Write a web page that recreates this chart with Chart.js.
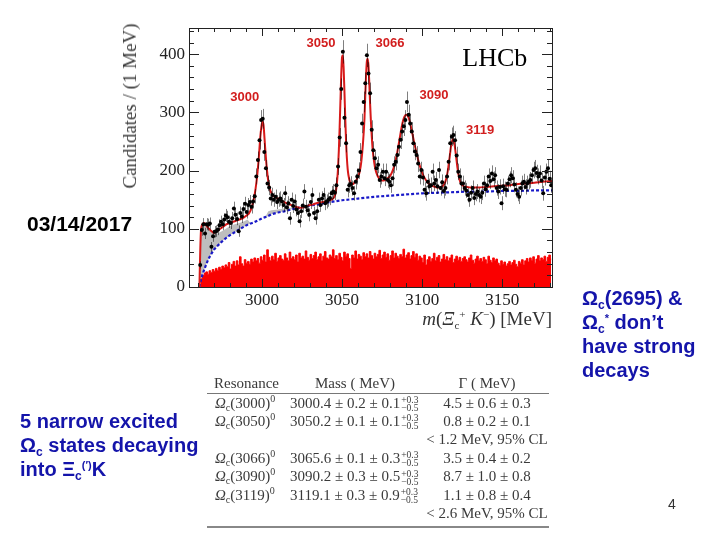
<!DOCTYPE html>
<html>
<head>
<meta charset="utf-8">
<script src="https://cdn.jsdelivr.net/npm/chart.js@4.4.1/dist/chart.umd.min.js"></script>
<style>
  body { margin: 0; background: #fff; }
  #slide { position: relative; width: 720px; height: 540px; overflow: hidden; font-family: 'Liberation Sans', Arial, sans-serif; }
  #grafico { position: absolute; left: 0; top: 0; }
  .txt { position: absolute; white-space: nowrap; }
  sub, sup { line-height: 0; }
  .blue { color: rgb(20, 20, 170); font-weight: bold; font-size: 20px; line-height: 24px; height: 24px; }
  .blue sub { font-size: 12px; vertical-align: -4px; }
  .blue sup { font-size: 11px; vertical-align: 7px; }
  #ytitle { left: 130px; top: 106px; transform: translate(-50%, -50%) rotate(-90deg); font: 19px 'Liberation Serif', serif; color: #3a3a3a; }
  #xtitle { right: 168px; top: 308px; font: 19px 'Liberation Serif', serif; color: #333; }
  #xtitle sub { font-size: 11px; vertical-align: -4px; }
  #xtitle sup { font-size: 11px; vertical-align: 7px; }
  table { position: absolute; left: 207px; top: 373px; width: 342px; table-layout: fixed; border-collapse: collapse; font: 15px 'Liberation Serif', serif; color: #3a3a3a; }
  th { font-weight: normal; height: 20px; padding: 0; line-height: 16px; border-bottom: 1px solid #777; }
  tr.row { height: 18.5px; }
  td { padding: 0; line-height: 15px; white-space: nowrap; overflow: visible; }
  td.c1 { padding-left: 8px; }
  td.c2 { padding-left: 5px; }
  td.c3 { text-align: center; }
  td sub { font-size: 10px; vertical-align: -3px; }
  td sup { font-size: 10px; vertical-align: 6px; }
  .pm { display: inline-block; vertical-align: middle; font-size: 9.5px; line-height: 8px; margin: -6px 0 -6px 1px; }
  tr.end td { height: 3px; border-bottom: 2px solid #888; }
</style>
</head>
<body>
<div id="slide">
  <canvas id="grafico" width="720" height="540"></canvas>

  <div class="txt" id="ytitle">Candidates / (1 MeV)</div>
  <div class="txt" id="xtitle"><i>m</i>(<i>Ξ</i><sub>c</sub><sup>+</sup> <i>K</i><sup>−</sup>) [MeV]</div>

  <div class="txt" style="left:27px; top:211px; font-weight:bold; font-size:21px; line-height:26px; color:#000;">03/14/2017</div>

  <div class="txt blue" style="left:582px; top:286px;">Ω<sub>c</sub>(2695) &amp;</div>
  <div class="txt blue" style="left:582px; top:310px;">Ω<sub>c</sub><sup>*</sup> don’t</div>
  <div class="txt blue" style="left:582px; top:334px;">have strong</div>
  <div class="txt blue" style="left:582px; top:358px;">decays</div>

  <div class="txt blue" style="left:20px; top:409px;">5 narrow excited</div>
  <div class="txt blue" style="left:20px; top:433px;">Ω<sub>c</sub> states decaying</div>
  <div class="txt blue" style="left:20px; top:457px;">into Ξ<sub>c</sub><sup>(′)</sup>K</div>

  <div class="txt" style="left:668px; top:496px; font-size:14px; color:#333;">4</div>

  <table>
    <colgroup><col style="width:78px"><col style="width:140px"><col></colgroup>
    <tr><th style="text-align:left; padding-left:7px;">Resonance</th><th>Mass ( MeV)</th><th>Γ ( MeV)</th></tr>
    <tr class="row"><td class="c1"><i>Ω</i><sub>c</sub>(3000)<sup>0</sup></td><td class="c2">3000.4 ± 0.2 ± 0.1<span class="pm">+0.3<br>−0.5</span></td><td class="c3">4.5 ± 0.6 ± 0.3</td></tr>
    <tr class="row"><td class="c1"><i>Ω</i><sub>c</sub>(3050)<sup>0</sup></td><td class="c2">3050.2 ± 0.1 ± 0.1<span class="pm">+0.3<br>−0.5</span></td><td class="c3">0.8 ± 0.2 ± 0.1</td></tr>
    <tr class="row"><td class="c1"></td><td class="c2"></td><td class="c3">&lt; 1.2 MeV, 95% CL</td></tr>
    <tr class="row"><td class="c1"><i>Ω</i><sub>c</sub>(3066)<sup>0</sup></td><td class="c2">3065.6 ± 0.1 ± 0.3<span class="pm">+0.3<br>−0.5</span></td><td class="c3">3.5 ± 0.4 ± 0.2</td></tr>
    <tr class="row"><td class="c1"><i>Ω</i><sub>c</sub>(3090)<sup>0</sup></td><td class="c2">3090.2 ± 0.3 ± 0.5<span class="pm">+0.3<br>−0.5</span></td><td class="c3">8.7 ± 1.0 ± 0.8</td></tr>
    <tr class="row"><td class="c1"><i>Ω</i><sub>c</sub>(3119)<sup>0</sup></td><td class="c2">3119.1 ± 0.3 ± 0.9<span class="pm">+0.3<br>−0.5</span></td><td class="c3">1.1 ± 0.8 ± 0.4</td></tr>
    <tr class="row"><td class="c1"></td><td class="c2"></td><td class="c3">&lt; 2.6 MeV, 95% CL</td></tr>
    <tr class="end"><td></td><td></td><td></td></tr>
  </table>
</div>

<script>
// 1 MeV bins, first bin starts at 2961 MeV
const binStart = 2961;
const binWidth = 1;

// candidates per bin (black points)
const dataCounts = [
  38, 98, 108, 92, 108, 107, 109, 69, 87, 95,
  96, 99, 106, 112, 108, 116, 123, 120, 112, 110,
  118, 135, 124, 117, 96, 127, 121, 134, 143, 129,
  141, 146, 138, 147, 156, 190, 218, 252, 287, 289,
  232, 204, 178, 171, 152, 158, 150, 155, 146, 150,
  152, 147, 141, 161, 137, 144, 118, 150, 139, 147,
  133, 127, 113, 130, 140, 164, 138, 132, 124, 146,
  158, 127, 118, 130, 150, 141, 152, 158, 144, 147,
  150, 153, 161, 164, 162, 175, 207, 257, 340, 404,
  291, 247, 167, 175, 177, 170, 161, 181, 190, 200,
  232, 281, 318, 350, 398, 367, 333, 270, 235, 221,
  204, 210, 184, 190, 198, 187, 198, 184, 181, 175,
  187, 210, 215, 227, 241, 253, 267, 276, 287, 318,
  296, 281, 267, 247, 233, 227, 212, 190, 201, 188,
  167, 161, 181, 173, 175, 198, 178, 184, 173, 201,
  170, 180, 165, 170, 190, 215, 247, 258, 261, 252,
  226, 198, 190, 178, 178, 170, 166, 158, 150, 162,
  170, 153, 160, 164, 158, 155, 162, 178, 168, 175,
  190, 182, 195, 185, 192, 170, 164, 172, 144, 173,
  168, 167, 178, 185, 192, 187, 176, 167, 160, 155,
  170, 178, 181, 172, 178, 181, 184, 192, 201, 204,
  196, 190, 195, 183, 161, 188, 198, 204, 186, 175
];

// red filled histogram per bin
const redHist = [
  8, 15, 20, 24, 26, 22, 28, 25, 30, 27,
  32, 28, 34, 30, 36, 33, 38, 35, 42, 31,
  39, 44, 36, 45, 38, 52, 40, 36, 47, 41,
  44, 39, 48, 43, 50, 45, 49, 41, 52, 46,
  55, 43, 64, 51, 45, 53, 47, 58, 44, 50,
  54, 48, 46, 57, 50, 45, 60, 49, 52, 47,
  55, 43, 58, 50, 53, 48, 62, 51, 46, 56,
  49, 54, 60, 47, 52, 57, 45, 53, 61, 50,
  48, 55, 52, 64, 49, 54, 47, 58, 51, 45,
  60, 53, 57, 49, 32, 55, 50, 62, 48, 56,
  53, 47, 59, 52, 57, 50, 61, 54, 48, 58,
  52, 56, 63, 49, 55, 60, 51, 57, 46, 54,
  62, 50, 58, 53, 49, 56, 52, 65, 50, 55,
  59, 48, 54, 61, 51, 57, 46, 53, 50, 42,
  55, 38, 47, 52, 44, 49, 58, 45, 51, 54,
  43, 48, 56, 47, 52, 45, 50, 55, 42, 48,
  53, 46, 51, 44, 49, 52, 47, 43, 50, 55,
  46, 41, 48, 53, 45, 49, 44, 51, 47, 40,
  53, 46, 42, 50, 45, 48, 41, 37, 45, 39,
  43, 36, 40, 44, 38, 42, 46, 39, 35, 44,
  41, 47, 38, 45, 49, 43, 50, 46, 52, 41,
  48, 54, 45, 50, 47, 53, 44, 51, 55, 48
];

// total fit (red curve)
const fitMass = [
  2961, 2961.5, 2962, 2963, 2964, 2965, 2966, 2967, 2968, 2969, 2970,
  2971, 2972, 2973, 2974, 2975, 2976, 2977, 2978, 2979, 2980,
  2981, 2982, 2983, 2984, 2985, 2986, 2987, 2988, 2989, 2990,
  2991, 2992, 2993, 2994, 2995, 2996, 2997, 2998, 2999, 3000, 3000.5,
  3001, 3002, 3003, 3004, 3005, 3006, 3007, 3008, 3009, 3010,
  3012, 3014, 3016, 3018, 3020, 3022, 3024, 3026, 3028, 3030,
  3032, 3034, 3036, 3038, 3040, 3042, 3044, 3045, 3046, 3047,
  3047.5, 3048, 3048.5, 3049, 3049.5, 3050, 3050.5, 3051, 3051.5, 3052,
  3052.5, 3053, 3053.5, 3054, 3055, 3056, 3057, 3058, 3059, 3060,
  3061, 3062, 3063, 3064, 3064.5, 3065, 3065.5, 3066, 3066.5, 3067,
  3067.5, 3068, 3069, 3070, 3071, 3072, 3073, 3074, 3075, 3076,
  3077, 3078, 3079, 3080, 3081, 3082, 3083, 3084, 3085, 3086,
  3087, 3088, 3089, 3090, 3091, 3092, 3093, 3094, 3095, 3096,
  3097, 3098, 3099, 3100, 3101, 3102, 3103, 3104, 3105, 3106,
  3107, 3108, 3109, 3110, 3111, 3112, 3113, 3114, 3115, 3116,
  3117, 3118, 3119, 3119.5, 3120, 3121, 3122, 3123, 3124, 3125,
  3126, 3128, 3130, 3135, 3140, 3145, 3150, 3155, 3160, 3165,
  3170, 3175, 3181
];
const fitValue = [
  0, 60, 98, 108, 110, 107, 103, 100, 97, 95, 93,
  94, 96, 98, 100, 102, 104, 106, 108, 109, 110,
  111, 112, 113, 114, 115, 116, 117, 118, 120, 122,
  124, 127, 132, 140, 152, 168, 190, 220, 258, 281, 284,
  278, 240, 205, 181, 168, 161, 157, 155, 153, 152,
  149, 146, 143, 141, 139, 137, 136, 137, 139, 141,
  142, 144, 145, 146, 147, 149, 151, 154, 162, 185,
  205, 235, 275, 320, 365, 395, 398, 375, 335, 290,
  250, 222, 203, 192, 180, 176, 177, 180, 184, 190,
  198, 215, 245, 290, 330, 365, 388, 392, 380, 350,
  315, 285, 240, 215, 200, 192, 187, 184, 183, 183,
  184, 186, 188, 191, 196, 203, 212, 225, 240, 256,
  272, 285, 293, 296, 294, 287, 275, 262, 248, 236,
  224, 213, 204, 196, 190, 185, 181, 178, 176, 174,
  173, 172, 171, 171, 171, 172, 174, 178, 186, 200,
  220, 242, 254, 254, 248, 228, 205, 188, 179, 175,
  173, 172, 171, 171, 172, 173, 174, 175, 177, 178,
  179, 181, 182
];

// background (blue dashed) and background + feed-down (grey)
const bgMass = [
  2961, 2961.5, 2962, 2963, 2964, 2965, 2966, 2967, 2968, 2970,
  2972, 2975, 2978, 2980, 2983, 2986, 2989, 2991, 2993, 2994,
  2995, 2998, 3000, 3002, 3004, 3006, 3010, 3014, 3018, 3021,
  3023, 3025, 3030, 3035, 3040, 3050, 3060, 3070, 3080, 3090,
  3100, 3110, 3120, 3130, 3140, 3150, 3160, 3170, 3181
];
const bgValue = [
  0, 6, 13, 22, 30, 37, 44, 50, 55, 64,
  70, 78, 85, 89, 94, 99, 104, 107, 109, 110,
  111, 115, 118, 120, 122, 125, 128, 130, 133, 135,
  136, 137, 140, 142, 145, 149, 152, 155, 157, 159,
  161, 162, 163, 164, 164, 165, 165, 166, 166
];
const feedValue = [
  0, 60, 95, 108, 108, 105, 101, 98, 95, 92,
  92, 96, 101, 105, 108, 110, 113, 116, 109, 110,
  111, 115, 118, 120, 130, 132, 133, 135, 136, 135,
  136, 137, 140, 142, 145, 149, 152, 155, 157, 159,
  161, 162, 163, 164, 164, 165, 165, 166, 166
];

const xTicks = [3000, 3050, 3100, 3150];
const yTicks = [0, 100, 200, 300, 400];

const peakNames = ['3000', '3050', '3066', '3090', '3119'];
const peakLabelAt = [[2989.3, 325], [3036.8, 419], [3079.9, 419], [3107.4, 329], [3136.2, 269]];

const xMin = 2954.5, xMax = 3181;
const yMin = 0, yMax = 445;

function pontos(xs, ys) {
  return ys.map((v, i) => ({ x: xs[i], y: v }));
}
function binCentre(i) {
  return binStart + binWidth * (i + 0.5);
}

const dataPts = dataCounts.map((v, i) => ({ x: binCentre(i), y: v }));
const histPts = redHist.map((v, i) => ({ x: binCentre(i), y: v }));

const grey = 'rgb(190,190,190)';

const moldura = {
  id: 'moldura',
  afterDatasetsDraw(chart) {
    const ctx = chart.ctx;
    const y = chart.scales.y;
    const meta = chart.getDatasetMeta(0);
    ctx.save();
    ctx.strokeStyle = 'rgba(0,0,0,0.5)';
    ctx.lineWidth = 1;
    ctx.beginPath();
    meta.data.forEach((p, i) => {
      const v = dataCounts[i];
      const err = Math.sqrt(v);
      const px = Math.round(p.x) + 0.5;
      ctx.moveTo(px, y.getPixelForValue(v + err));
      ctx.lineTo(px, y.getPixelForValue(v - err));
    });
    ctx.stroke();
    ctx.restore();
  },
  afterDraw(chart) {
    const ctx = chart.ctx;
    const a = chart.chartArea;
    const x = chart.scales.x;
    const y = chart.scales.y;
    ctx.save();
    ctx.strokeStyle = '#222';
    ctx.lineWidth = 1;
    ctx.strokeRect(Math.round(a.left) + 0.5, Math.round(a.top) + 0.5, Math.round(a.right - a.left), Math.round(a.bottom - a.top));
    ctx.beginPath();
    for (let v = 0; v <= yMax; v += 20) {
      const p = Math.round(y.getPixelForValue(v)) + 0.5;
      const len = v % 100 === 0 ? 10 : 5;
      ctx.moveTo(a.left, p); ctx.lineTo(a.left + len, p);
      ctx.moveTo(a.right, p); ctx.lineTo(a.right - len, p);
    }
    for (let v = 2960; v <= xMax; v += 10) {
      const p = Math.round(x.getPixelForValue(v)) + 0.5;
      const len = v % 50 === 0 ? 8 : 4;
      ctx.moveTo(p, a.bottom); ctx.lineTo(p, a.bottom - len);
      ctx.moveTo(p, a.top); ctx.lineTo(p, a.top + len);
    }
    ctx.stroke();

    ctx.textAlign = 'center';
    ctx.textBaseline = 'middle';
    ctx.fillStyle = 'rgb(210,30,30)';
    ctx.font = 'bold 13px "Liberation Sans", Arial, sans-serif';
    peakNames.forEach((t, i) => {
      ctx.fillText(t, x.getPixelForValue(peakLabelAt[i][0]), y.getPixelForValue(peakLabelAt[i][1]));
    });
    ctx.fillStyle = '#000';
    ctx.font = '26px "Liberation Serif", serif';
    ctx.fillText('LHCb', x.getPixelForValue(3145.3), y.getPixelForValue(391));
    ctx.restore();
  }
};

const ctx = document.getElementById('grafico').getContext('2d');
const grafico = new Chart(ctx, {
  type: 'line',
  data: {
    datasets: [
      {
        label: 'data',
        data: dataPts,
        showLine: false,
        pointRadius: 2,
        pointBackgroundColor: '#000',
        pointBorderWidth: 0,
        order: 0
      },
      {
        label: 'fit',
        data: pontos(fitMass, fitValue),
        borderColor: 'rgb(215,25,25)',
        borderWidth: 2,
        pointRadius: 0,
        cubicInterpolationMode: 'monotone',
        fill: false,
        order: 1
      },
      {
        label: 'background',
        data: pontos(bgMass, bgValue),
        borderColor: 'rgb(25,25,200)',
        borderWidth: 2.2,
        borderDash: [3, 2],
        pointRadius: 0,
        tension: 0,
        fill: false,
        order: 2
      },
      {
        label: 'feed-down',
        data: pontos(bgMass, feedValue),
        borderWidth: 0,
        borderColor: grey,
        backgroundColor: grey,
        pointRadius: 0,
        tension: 0,
        fill: { target: 2, above: grey, below: grey },
        order: 3
      },
      {
        label: 'red histogram',
        data: histPts,
        stepped: 'middle',
        borderColor: 'rgb(250,0,0)',
        borderWidth: 1,
        backgroundColor: 'rgb(250,0,0)',
        pointRadius: 0,
        fill: 'origin',
        order: 4
      }
    ]
  },
  options: {
    responsive: false,
    animation: false,
    devicePixelRatio: 1,
    layout: { padding: { left: 0, right: 168, top: 28, bottom: 213 } },
    plugins: { legend: { display: false }, tooltip: { enabled: false } },
    scales: {
      x: {
        type: 'linear',
        min: xMin,
        max: xMax,
        grid: { display: false, drawTicks: false },
        border: { display: false },
        ticks: { font: { family: 'Liberation Serif', size: 17 }, color: '#222', padding: 3, callback: v => String(v) },
        afterBuildTicks: s => { s.ticks = xTicks.map(v => ({ value: v })); },
        afterFit: s => { s.height = 40; }
      },
      y: {
        type: 'linear',
        min: yMin,
        max: yMax,
        grid: { display: false, drawTicks: false },
        border: { display: false },
        ticks: { font: { family: 'Liberation Serif', size: 17 }, color: '#222', padding: 4, callback: v => String(v) },
        afterBuildTicks: s => { s.ticks = yTicks.map(v => ({ value: v })); },
        afterFit: s => { s.width = 189; }
      }
    }
  },
  plugins: [moldura]
});
</script>
</body>
</html>
